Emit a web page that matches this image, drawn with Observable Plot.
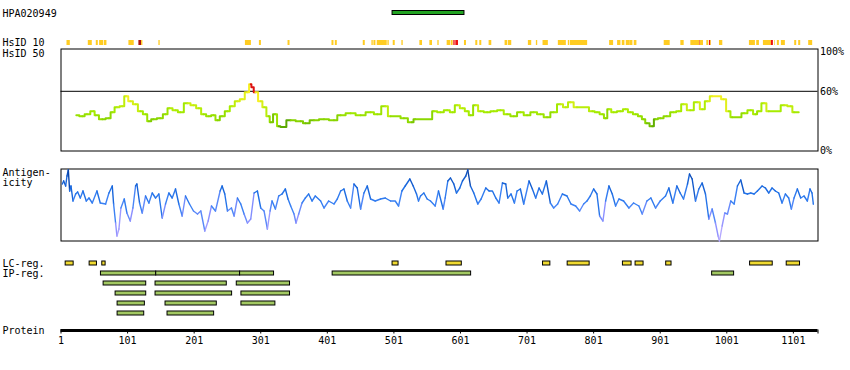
<!DOCTYPE html>
<html><head><meta charset="utf-8">
<script src="https://cdn.jsdelivr.net/npm/d3@7"></script>
<script src="https://cdn.jsdelivr.net/npm/@observablehq/plot@0.6"></script>
<style>
body{margin:0;background:#fff}
#chart{position:relative;width:850px;height:370px;overflow:hidden}
</style></head><body><div id="chart"></div>
<script>
// ---------- data ----------
const proteinLength = 1138;
const axisTicks = [1, 101, 201, 301, 401, 501, 601, 701, 801, 901, 1001, 1101, 1138];

const antigenName = "HPA020949";
const antigenStart = [499];
const antigenEnd = [607];

// HsID 10 blocks (residue start, end, level)
const hsid10Start = [10,42,54,59,66,103,118,122,148,278,299,342,408,413,455,468,471,476,492,500,513,540,555,567,581,587,591,594,607,624,630,644,668,673,703,715,725,748,763,766,825,837,844,850,856,862,907,932,947,960,961,971,975,977,990,1035,1046,1056,1068,1073,1077,1083,1103,1109,1124];
const hsid10End   = [15,48,57,65,70,111,122,124,150,287,302,345,411,416,458,470,474,491,494,503,515,544,559,569,586,590,593,598,610,627,633,648,672,678,708,717,733,760,765,792,831,842,848,856,860,866,916,937,960,961,966,974,977,978,995,1044,1050,1068,1071,1074,1080,1089,1106,1112,1130];
const hsid10Level = ["id","id","id","id","id","id","top","id","id","id","id","id","id","id","id","id","id","id","id","id","id","id","id","id","id","id","high","high","id","id","id","id","id","id","id","id","id","id","id","id","id","id","id","id","id","id","id","id","id","high","id","id","high","id","id","id","id","id","high","id","id","id","id","id","id"];

// HsID 50 identity profile (%)
const hsid50Pos = [24,33,40,50,53,63,73,78,85,93,99,105,113,120,128,133,140,150,158,164,173,180,191,200,208,215,223,230,236,243,251,258,266,273,281,286,288,293,301,306,313,316,323,328,333,346,361,368,381,396,411,421,436,451,466,476,488,496,506,516,528,533,551,556,561,571,581,589,596,604,611,616,624,631,641,651,661,671,681,691,701,711,721,731,741,751,759,766,776,789,799,806,814,819,824,831,841,849,856,864,871,876,881,889,894,901,911,921,929,936,946,957,964,972,979,989,996,1004,1009,1019,1027,1037,1044,1049,1057,1064,1077,1087,1097,1102,1109];
const hsid50Val = [36,35,37,40,36,32,33,39,44,45,55,50,47,40,37,30,32,33,37,43,41,39,48,46,43,37,35,36,31,35,40,45,50,52,59,67,64,59,50,44,35,29,37,25,24,31,30,28,31,32,31,36,38,36,39,37,45,35,35,33,29,32,32,32,40,39,41,39,46,43,40,36,46,40,39,40,41,37,35,39,36,39,37,34,39,47,44,49,44,44,40,39,37,33,42,39,40,42,39,37,35,32,28,25,32,33,35,39,40,47,41,49,42,50,55,55,52,40,34,34,38,41,37,40,48,40,40,46,45,39,39];
const hsid50Ticks = [0, 60, 100];
const hsid50Threshold = [60];

// Antigenicity profile (arbitrary units, 0..72)
const antiPos = [3,5,8,10,12,14,16,19,23,26,30,34,39,43,48,55,60,68,73,78,80,83,85,88,91,96,100,105,109,113,115,119,123,128,133,138,143,148,153,158,163,168,173,178,183,188,194,200,206,211,217,222,227,233,240,243,247,251,257,261,266,271,276,281,286,291,296,301,306,311,315,318,323,328,333,338,342,346,351,354,358,363,368,373,378,383,391,396,403,411,416,421,426,431,436,441,446,451,456,461,466,473,481,488,496,503,508,513,518,525,530,535,538,
  541,546,551,556,563,568,575,578,582,586,591,595,600,604,609,612,616,621,627,632,639,644,649,654,659,664,669,672,677,682,686,691,696,704,709,714,719,724,730,736,741,747,754,761,767,774,780,786,791,796,801,806,810,815,819,824,829,834,839,846,854,861,869,874,881,887,894,901,909,914,920,926,931,936,942,945,949,954,959,964,969,974,979,984,988,990,994,998,1002,1007,1012,1017,1022,1027,1032,1037,1042,1047,1054,1059,1064,1069,1074,1079,1084,1089,1094,1098,1102,1107,1112,1117,1122,1126,1129,1131];
const antiVal = [57,60,55,65,71,50,55,40,47,49,43,50,40,43,38,50,38,37,48,55,37,18,5,12,33,42,28,20,33,55,57,38,28,45,38,48,43,47,23,37,48,43,52,37,25,45,37,30,27,30,10,20,35,30,50,55,47,30,33,25,43,37,27,18,22,48,50,33,30,12,30,40,32,45,47,52,42,35,27,18,27,38,43,47,40,45,40,33,40,37,42,50,52,40,33,57,53,32,48,55,42,40,42,43,40,40,35,50,55,62,55,47,40,
  45,48,42,40,35,50,32,43,60,63,57,48,53,60,65,71,55,48,37,42,53,50,50,43,38,58,57,43,47,38,50,52,37,60,52,43,53,47,60,38,33,37,47,45,37,35,30,37,40,45,52,47,25,20,40,55,47,35,42,40,33,38,35,27,40,43,33,40,45,53,38,55,48,42,57,67,62,40,52,58,47,22,32,18,5,0,15,28,27,40,37,55,61,48,47,48,47,50,55,53,48,53,50,48,38,47,43,32,43,52,43,45,40,52,48,37];

// Low-complexity regions
const lcStart = [8,44,63,499,580,725,762,845,864,910,1036,1091];
const lcEnd   = [20,55,68,508,603,736,795,858,876,918,1070,1111];

// IP regions (row index 1..5)
const ipRow   = [1,1,1,1,1, 2,2,2, 3,3,3, 4,4,4, 5,5];
const ipStart = [61,144,270,409,979, 65,143,265, 83,143,272, 86,158,272, 86,161];
const ipEnd   = [144,270,321,617,1012, 129,250,345, 129,258,345, 127,235,323, 126,231];
const regionRows = [0,1,2,3,4,5];
const regionLabels = ["LC-reg.", "IP-reg."];

// ---------- drawing ----------
const chart = document.getElementById("chart");
const font = "'DejaVu Sans Mono', 'Liberation Mono', monospace";
const base = {
  width: 850, marginLeft: 60.5, marginRight: 32.5,
  x: {domain: [1, proteinLength], axis: null},
  style: {fontFamily: font, fontSize: "10px", background: "transparent", overflow: "visible", color: "black"}
};
function add(plot, top) {
  plot.style.position = "absolute";
  plot.style.left = "0px";
  plot.style.top = top + "px";
  chart.append(plot);
}
const labelOpts = {frameAnchor: "left", dx: -58.5, textAnchor: "start", fill: "black", text: d => d};

// antigen bar
const antigen = antigenStart.map((s, i) => ({s, e: antigenEnd[i]}));
add(Plot.plot({...base, height: 24, marginTop: 10.5, marginBottom: 9.5,
  marks: [
    Plot.rect(antigen, {x1: "s", x2: "e", fill: "#22a322", stroke: "black", strokeWidth: 1}),
    Plot.text([antigenName], {...labelOpts, dy: 0.5})
  ]}), 0);

// HsID 10
const hsid10 = hsid10Start.map((s, i) => ({s, e: hsid10End[i], level: hsid10Level[i]}));
add(Plot.plot({...base, height: 14, marginTop: 4, marginBottom: 5,
  color: {domain: ["id", "high", "top"], range: ["#ffcc22", "#ee1111", "#aa1111"]},
  marks: [
    Plot.rect(hsid10, {x1: "s", x2: "e", fill: "level"}),
    Plot.text(["HsID 10"], labelOpts)
  ]}), 36);

// HsID 50
const hsid50 = hsid50Pos.map((p, i) => ({p, v: hsid50Val[i]}));
add(Plot.plot({...base, height: 115, marginTop: 8.5, marginBottom: 4.5,
  y: {domain: [0, 100], range: [110.5, 11], axis: "right", ticks: hsid50Ticks, tickFormat: d => d + "%", tickSize: 0, tickPadding: 2, label: null},
  color: {type: "linear", domain: [24, 31, 40, 48, 56, 59.9, 60.1, 100],
          range: ["#5aa800", "#88d400", "#a6ec00", "#ccee11", "#f6f022", "#f6f022", "#dd1111", "#dd1111"]},
  marks: [
    Plot.frame({stroke: "black"}),
    Plot.ruleY(hsid50Threshold, {stroke: "black"}),
    Plot.line(hsid50, {x: "p", y: "v", z: null, stroke: "v", strokeWidth: 2, curve: "step"}),
    Plot.text(["HsID 50"], {...labelOpts, frameAnchor: "top-left", lineAnchor: "top", dy: 1})
  ]}), 40);

// Antigenicity
const anti = antiPos.map((p, i) => ({p, v: antiVal[i]}));
add(Plot.plot({...base, height: 82, marginTop: 8.5, marginBottom: 1.5,
  y: {domain: [0, 72], axis: null},
  color: {type: "linear", domain: [0, 20, 35, 50, 62, 72],
          range: ["#b4a8ff", "#8c90ff", "#3f84f6", "#1f70e6", "#1159cc", "#0a44a8"]},
  marks: [
    Plot.frame({stroke: "black"}),
    Plot.line(anti, {x: "p", y: "v", z: null, stroke: "v", strokeWidth: 1.4, curve: "linear"}),
    Plot.text(["Antigen-\nicity"], {...labelOpts, frameAnchor: "top-left", lineAnchor: "top", lineHeight: 1})
  ]}), 160);

// LC / IP regions
const lc = lcStart.map((s, i) => ({s, e: lcEnd[i], row: 0}));
const ip = ipStart.map((s, i) => ({s, e: ipEnd[i], row: ipRow[i]}));
const rowLabels = regionLabels.map((label, row) => ({label, row}));
add(Plot.plot({...base, height: 70, marginTop: 7.5, marginBottom: 2.5,
  y: {type: "band", domain: regionRows, paddingInner: 0.6, paddingOuter: 0.3, axis: null},
  marks: [
    Plot.rect(lc, {x1: "s", x2: "e", y: "row", fill: "#f0da30", stroke: "black", strokeWidth: 1}),
    Plot.rect(ip, {x1: "s", x2: "e", y: "row", fill: "#a2c862", stroke: "black", strokeWidth: 1}),
    Plot.text(rowLabels, {...labelOpts, y: "row", text: "label"})
  ]}), 250);

// Protein axis
add(Plot.plot({...base, height: 50, marginTop: 9.5, marginBottom: 40.5,
  x: {domain: [1, proteinLength], ticks: axisTicks, tickFormat: d => d === proteinLength ? "" : String(d), tickSize: 4, tickPadding: 3, label: null},
  y: {type: "point", domain: ["Protein"], axis: null},
  marks: [
    Plot.ruleY(["Protein"], {y: d => d, stroke: "black", strokeWidth: 3}),
    Plot.text(["Protein"], {...labelOpts, y: d => d})
  ]}), 320);
</script></body></html>
